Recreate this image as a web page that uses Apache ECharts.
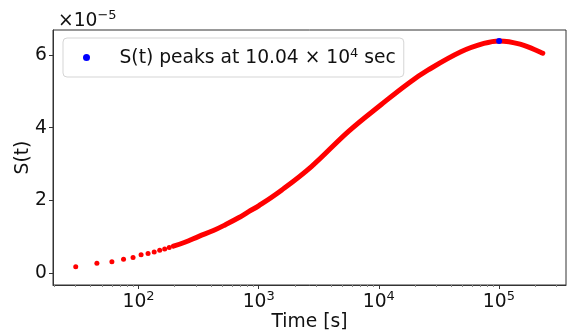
<!DOCTYPE html>
<html><head><meta charset="utf-8">
<script src="https://cdn.jsdelivr.net/npm/echarts@6/dist/echarts.min.js"></script>
<style>html,body{margin:0;padding:0;background:#fff}#c{width:569px;height:332px}</style>
</head><body><div id="c"></div>
<script>
// values of S(t) in units of 1e-5
const sparseT = [30, 45, 60, 75, 90, 105, 120, 135, 150, 165, 180];
const sparseS = [0.17, 0.27, 0.31, 0.38, 0.43, 0.50, 0.54, 0.58, 0.63, 0.66, 0.70];
const curveT = [195, 240, 318, 420, 529, 680, 826, 1000, 1550, 2750, 5600, 10500, 17600, 25800, 48300, 75000, 100400, 150000, 232000];
const curveS = [0.74, 0.84, 1.01, 1.17, 1.33, 1.52, 1.69, 1.85, 2.28, 2.93, 3.90, 4.64, 5.22, 5.59, 6.09, 6.32, 6.39, 6.30, 6.05];
const peakT = [100400];
const peakS = [6.39];
const xMajor = [100, 1000, 10000, 100000];
const xMinor = [20,30,40,50,60,70,80,90,200,300,400,500,600,700,800,900,2000,3000,4000,5000,6000,7000,8000,9000,20000,30000,40000,50000,60000,70000,80000,90000,200000,300000];
const yTicks = [0, 2, 4, 6];
const legendName = 'S(t) peaks at 10.04 × 10^4 sec';

const F = 'DejaVu Sans';
const FS = 18.7, SS = 13, C = '#111';
const chart = echarts.init(document.getElementById('c'));
const xMin = 19.4, xMax = 362000;
chart.setOption({
  animation: false,
  textStyle: {fontFamily: F},
  title: {
    text: '{a|×10}{b|−5}', left: 53, top: 4,
    textStyle: {fontWeight: 'normal', rich: {
      a: {fontFamily: F, fontSize: FS, color: C, lineHeight: 22, verticalAlign: 'bottom'},
      b: {fontFamily: F, fontSize: SS, color: C, lineHeight: 14, verticalAlign: 'top'}
    }}
  },
  grid: {left: 53, right: 3, top: 30, bottom: 47, containLabel: false, outerBoundsMode: 'none',
    show: true, borderColor: '#333', borderWidth: 1, backgroundColor: '#fff'},
  legend: {
    left: 63, top: 38, orient: 'vertical',
    padding: [9, 8, 9, 20],
    backgroundColor: 'rgba(255,255,255,0.8)', borderColor: '#d5d5d5', borderWidth: 1, borderRadius: 4,
    itemWidth: 12, itemHeight: 7, icon: 'circle',
    data: [legendName],
    formatter: function () { return '{p|S(t) peaks at 10.04 × 10}{s|4}{a| sec}'; },
    textStyle: {rich: {
      p: {fontFamily: F, fontSize: FS, color: C, lineHeight: 21, verticalAlign: 'bottom', padding: [0, 0, 0, 22]},
      a: {fontFamily: F, fontSize: FS, color: C, lineHeight: 21, verticalAlign: 'bottom'},
      s: {fontFamily: F, fontSize: SS, color: C, lineHeight: 13, verticalAlign: 'top'}
    }}
  },
  xAxis: [{
    type: 'log', logBase: 10, min: xMin, max: xMax, gridIndex: 0,
    name: 'Time [s]', nameLocation: 'middle', nameGap: 28, nameMoveOverlap: false,
    nameTextStyle: {fontFamily: F, fontSize: FS, color: C},
    axisLine: {show: true, onZero: false, lineStyle: {color: '#333', width: 1}},
    axisTick: {show: true, length: 4, inside: false, customValues: xMajor, lineStyle: {color: '#333'}},
    axisLabel: {
      show: true, margin: 5, customValues: xMajor,
      formatter: function (v) { return '{b|10}{s|' + Math.round(Math.log10(v)) + '}'; },
      rich: {
        b: {fontFamily: F, fontSize: FS, color: C, lineHeight: 22, verticalAlign: 'bottom'},
        s: {fontFamily: F, fontSize: SS, color: C, lineHeight: 14, verticalAlign: 'top'}
      }
    },
    splitLine: {show: false}, minorTick: {show: false}
  }, {
    type: 'log', logBase: 10, min: xMin, max: xMax, gridIndex: 0, position: 'bottom',
    axisLine: {show: false, onZero: false},
    axisTick: {show: true, length: 2, customValues: xMinor, lineStyle: {color: '#888'}},
    axisLabel: {show: false},
    splitLine: {show: false}
  }],
  yAxis: {
    type: 'value', min: -0.33, max: 6.69,
    name: 'S(t)', nameLocation: 'middle', nameGap: 20, nameRotate: 90, nameMoveOverlap: false,
    nameTextStyle: {fontFamily: F, fontSize: FS, color: C},
    axisLine: {show: true, lineStyle: {color: '#333', width: 1}},
    axisTick: {show: true, length: 4, customValues: yTicks, lineStyle: {color: '#333'}},
    axisLabel: {show: true, margin: 6, customValues: yTicks, fontFamily: F, fontSize: FS, color: C},
    splitLine: {show: false}
  },
  series: [{
    name: 'sparse', type: 'scatter', xAxisIndex: 0, symbolSize: 5,
    itemStyle: {color: '#ff0000', opacity: 1},
    data: sparseT.map((t, i) => [t, sparseS[i]])
  }, {
    name: 'dense', type: 'line', xAxisIndex: 0, smooth: 0.4, showSymbol: false, symbol: 'none',
    lineStyle: {color: '#ff0000', width: 5, cap: 'round'},
    data: curveT.map((t, i) => [t, curveS[i]])
  }, {
    name: legendName, type: 'scatter', xAxisIndex: 0, symbolSize: 6, z: 5,
    itemStyle: {color: '#0000ff', opacity: 1},
    data: peakT.map((t, i) => [t, peakS[i]])
  }]
});
</script>
</body></html>
